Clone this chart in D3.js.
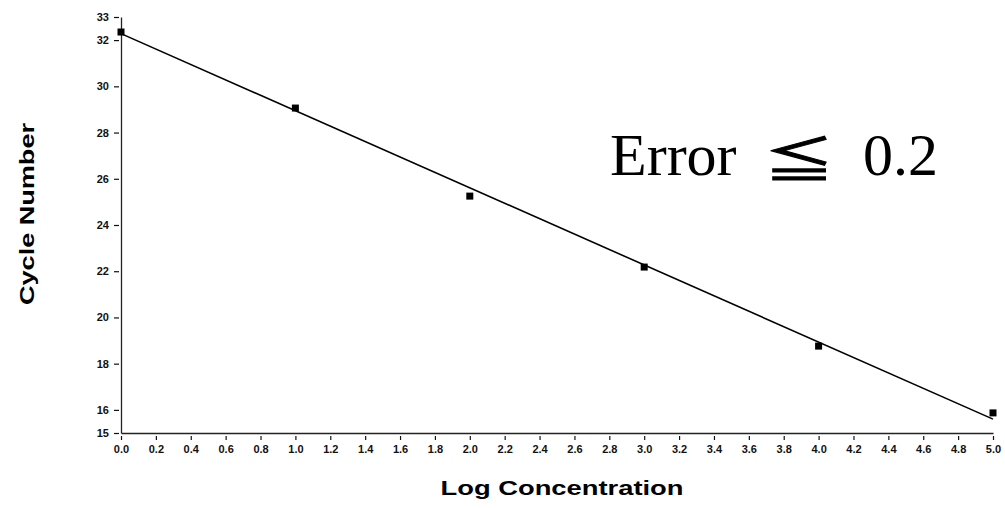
<!DOCTYPE html>
<html><head><meta charset="utf-8">
<script src="https://cdn.jsdelivr.net/npm/d3@7/dist/d3.min.js"></script>
<style>body{margin:0;background:#fff}svg{display:block}</style>
</head><body>
<svg id="c" width="1005" height="508"></svg>
<script>
const logConc = [0, 1, 2, 3, 4, 5];
const cycleNumber = [32.35, 29.06, 25.25, 22.18, 18.76, 15.87];
const fitX = [0, 5];
const fitY = [32.28, 15.6];
const xTicks = [0,0.2,0.4,0.6,0.8,1.0,1.2,1.4,1.6,1.8,2.0,2.2,2.4,2.6,2.8,3.0,3.2,3.4,3.6,3.8,4.0,4.2,4.4,4.6,4.8,5.0];
const yTicks = [15,16,18,20,22,24,26,28,30,32,33];
const xTitle = "Log Concentration";
const yTitle = "Cycle Number";

const svg = d3.select("#c");
const x = d3.scaleLinear().domain([0,5]).range([121,993]);
const y = d3.scaleLinear().domain([15,33]).range([433,17]);

const tickFont = "'Liberation Sans', Arial, sans-serif";

// axes
const xa = svg.append("g").attr("transform","translate(0,433)")
  .call(d3.axisBottom(x).tickValues(xTicks).tickFormat(d3.format(".1f")).tickSize(7).tickSizeOuter(0).tickPadding(5));
const ya = svg.append("g").attr("transform","translate(121,0)")
  .call(d3.axisLeft(y).tickValues(yTicks).tickFormat(d3.format("d")).tickSize(7).tickSizeOuter(0).tickPadding(5));
[xa,ya].forEach(a=>{
  a.select(".domain").attr("stroke","#222").attr("stroke-width",1.3);
  a.selectAll(".tick line").attr("stroke","#111").attr("stroke-width",1.2);
  a.selectAll(".tick text").attr("fill","#111").attr("font-family",tickFont).attr("font-size",11).attr("font-weight","bold");
});
ya.selectAll(".tick line").attr("x1",-2);
xa.selectAll(".tick line").attr("y1",3);

// fit line
svg.append("path")
  .datum(fitX.map((d,i)=>[d,fitY[i]]))
  .attr("d", d3.line().x(d=>x(d[0])).y(d=>y(d[1])))
  .attr("stroke","#000").attr("stroke-width",1.6).attr("fill","none");

// points
svg.append("g").selectAll("rect").data(logConc.map((d,i)=>[d,cycleNumber[i]])).join("rect")
  .attr("x", d=>x(d[0])-3.5).attr("y", d=>y(d[1])-3.5)
  .attr("width",7).attr("height",7).attr("fill","#000");

// titles
svg.append("text").attr("x",562).attr("y",495).attr("text-anchor","middle")
  .attr("font-family",tickFont).attr("font-weight","bold").attr("font-size",21)
  .attr("textLength",243).attr("lengthAdjust","spacingAndGlyphs").text(xTitle);
svg.append("text").attr("transform","translate(34,214) rotate(-90)").attr("text-anchor","middle")
  .attr("font-family",tickFont).attr("font-weight","bold").attr("font-size",20)
  .attr("textLength",182).attr("lengthAdjust","spacingAndGlyphs").text(yTitle);

// annotation
const serif = "'Liberation Serif', 'Times New Roman', serif";
svg.append("text").attr("x",610).attr("y",175).attr("font-family",serif).attr("font-size",60).text("Error");
svg.append("text").attr("transform","translate(799,177) scale(1.35,0.92)").attr("text-anchor","middle")
  .attr("font-family","'Noto Sans CJK JP', sans-serif").attr("font-size",52)
  .attr("stroke","#000").attr("stroke-width",1.2).text("\u2266");
svg.append("text").attr("x",863).attr("y",175).attr("font-family",serif).attr("font-size",60).text("0.2");
</script>
</body></html>
